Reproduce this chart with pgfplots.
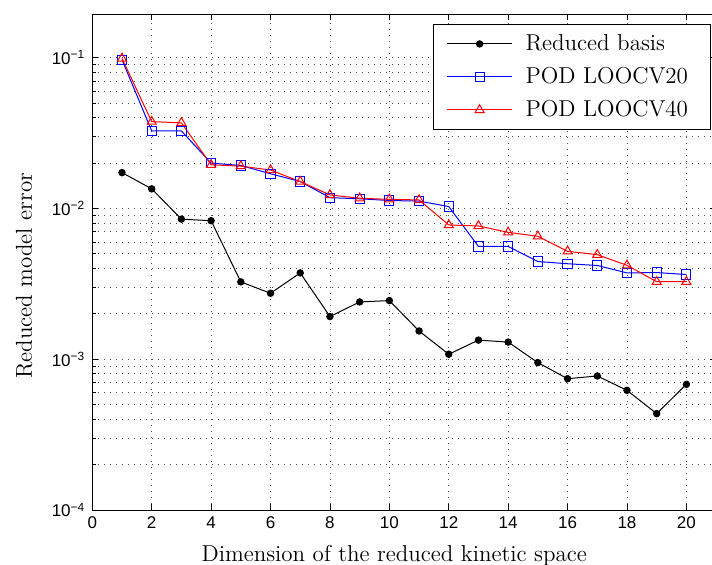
\documentclass[border=0pt]{standalone}
\usepackage{fontspec}
\usepackage{pgfplots}
\pgfplotsset{compat=1.18}
\usetikzlibrary{calc}
\newfontfamily\ticksans{Liberation Sans}

% error of the reduced models versus dimension of the reduced space
\pgfplotstableread{
dim  rb        loocvtwenty  loocvforty
1    0.0173    0.097        0.099
2    0.0135    0.0327       0.0377
3    0.0085    0.0327       0.0370
4    0.0083    0.0200       0.0195
5    0.00326   0.0193       0.0191
6    0.00274   0.0170       0.0180
7    0.00374   0.0151       0.0151
8    0.00192   0.0118       0.0123
9    0.00240   0.0116       0.0117
10   0.00245   0.0113       0.0115
11   0.00154   0.0112       0.0114
12   0.00108   0.0103       0.00778
13   0.00134   0.0056       0.00766
14   0.00130   0.0056       0.00695
15   0.00095   0.00445      0.00654
16   0.000743  0.00430      0.00520
17   0.000775  0.00419      0.00494
18   0.000622  0.00374      0.00420
19   0.000436  0.00376      0.00327
20   0.000682  0.00365      0.00327
}\errtable

\begin{document}
\begin{tikzpicture}
\begin{axis}[
  scale only axis, width=311.9pt, height=248pt,
  ymode=log,
  xmin=0, xmax=21, ymin=1e-4, ymax=0.195,
  xtick={0,2,...,20},
  ytick={1e-4,1e-3,1e-2,1e-1},
  yticklabels={10\textsuperscript{−4},10\textsuperscript{−3},10\textsuperscript{−2},10\textsuperscript{−1}},
  /pgf/number format/assume math mode=true,
  xticklabel style={font=\fontsize{8.5}{10}\selectfont\ticksans},
  yticklabel style={font=\fontsize{8.5}{10}\selectfont\ticksans},
  tick align=inside,
  major tick length=3pt, minor tick length=2pt,
  tick style={black, line width=0.4pt},
  axis line style={line width=0.5pt},
  grid=both,
  major grid style={black!70, line width=0.4pt, dash pattern=on 0.5pt off 2.5pt},
  minor grid style={black!70, line width=0.4pt, dash pattern=on 0.5pt off 2.5pt},
  xlabel={Dimension of the reduced kinetic space},
  ylabel={Reduced model error},
  xlabel style={at={(axis description cs:0.484,-0.1048)}, anchor=base, inner sep=0pt,
                font=\fontsize{11.5}{14}\selectfont},
  ylabel style={at={(axis description cs:-0.0967,0.472)}, anchor=base, inner sep=0pt,
                font=\fontsize{11.5}{14}\selectfont},
  legend style={at={(axis description cs:0.992,0.980)}, anchor=north east,
                draw=black, fill=white, line width=0.5pt,
                inner xsep=6.5pt, inner ysep=5.25pt, row sep=7.5pt,
                font=\fontsize{11.5}{14}\selectfont,
                nodes={inner sep=0pt, text height=8pt, text depth=1pt},
                /tikz/every odd column/.append style={column sep=6.5pt}},
  legend cell align=left,
  legend image code/.code={%
    \draw[mark repeat=2, mark phase=2, #1] plot coordinates {(0pt,0pt) (16.25pt,0pt) (32.5pt,0pt)};},
]
\coordinate (bl) at (rel axis cs:0,0);
\addplot[black, line width=0.5pt, mark=*, mark size=1.6pt] table[x=dim, y=rb] {\errtable};
\addplot[blue, line width=0.5pt, mark=square, mark size=2.3pt, mark options={solid}] table[x=dim, y=loocvtwenty] {\errtable};
\addplot[red, line width=0.5pt, mark=triangle, mark size=2.6pt, mark options={solid}] table[x=dim, y=loocvforty] {\errtable};
\legend{\makebox[86pt][l]{Reduced basis},\makebox[86pt][l]{POD LOOCV20},\makebox[86pt][l]{POD LOOCV40}}
\end{axis}
\pgfresetboundingbox
\path[use as bounding box] ($(bl)+(-46.15pt,-27pt)$) rectangle ($(bl)+(309.85pt,255pt)$);
\end{tikzpicture}
\end{document}
